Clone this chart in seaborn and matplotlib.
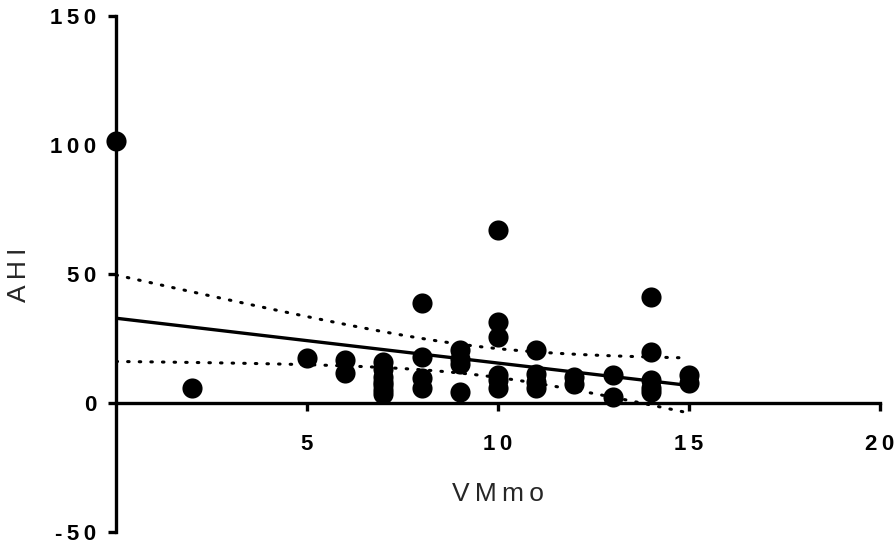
import numpy as np
import pandas as pd
import matplotlib
matplotlib.use("Agg")
import matplotlib.pyplot as plt
import seaborn as sns

# ---- data (overlapping points estimated) ----
vmmo = [0, 2, 5, 6, 6,
        7, 7, 7, 7, 7, 7, 7,
        8, 8, 8, 8,
        9, 9, 9, 9,
        10, 10, 10, 10, 10, 10,
        11, 11, 11, 11,
        12, 12,
        13, 13,
        14, 14, 14, 14, 14,
        15, 15]
ahi = [101.5, 6, 17.3, 16.7, 11.6,
       16, 13, 10, 8, 7, 5, 3.5,
       38.6, 17.7, 9.6, 5.7,
       20.5, 17, 15, 4.4,
       67, 31.5, 25.7, 11, 9, 6,
       20.5, 11.2, 8, 5.7,
       10.2, 7.5,
       10.9, 2.2,
       41.2, 19.9, 8.9, 6, 4.4,
       10.9, 7.6]

x_ticks = [5, 10, 15, 20]
y_ticks = [-50, 0, 50, 100, 150]
x_label = "VMmo"
y_label = "AHI"

df = pd.DataFrame({"VMmo": vmmo, "AHI": ahi})

# ---- linear fit and 95% confidence band of the mean ----
x = np.asarray(vmmo, float)
y = np.asarray(ahi, float)
n = len(x)
slope, intercept = np.polyfit(x, y, 1)
resid = y - (intercept + slope * x)
s = np.sqrt(np.sum(resid ** 2) / (n - 2))
t_crit = 2.02
xs = np.linspace(x.min(), x.max(), 100)
fit = intercept + slope * xs
se = s * np.sqrt(1 / n + (xs - x.mean()) ** 2 / np.sum((x - x.mean()) ** 2))
band = pd.DataFrame({"x": xs, "fit": fit, "lo": fit - t_crit * se, "hi": fit + t_crit * se})

sns.set_theme(style="white")
plt.rcParams["font.family"] = ["Liberation Sans", "DejaVu Sans"]

TS = "\u2009"  # thin space, for the wide letter spacing of the original


def spaced(s):
    return TS.join(list(s))


fig = plt.figure(figsize=(8.96, 5.46), dpi=100)
ax = fig.add_axes([116 / 896, 14 / 546, 764 / 896, 516 / 546])

dots = (0, (0.5, 3.3))
sns.lineplot(data=band, x="x", y="fit", ax=ax, color="black", lw=2.4, zorder=3)
sns.lineplot(data=band, x="x", y="hi", ax=ax, color="black", lw=2.2,
             linestyle=dots, dash_capstyle="round", zorder=3)
sns.lineplot(data=band, x="x", y="lo", ax=ax, color="black", lw=2.2,
             linestyle=dots, dash_capstyle="round", zorder=3)
sns.scatterplot(data=df, x="VMmo", y="AHI", ax=ax, color="black", s=210,
                edgecolor="black", linewidth=0, zorder=4, clip_on=False)

ax.set_xlim(0, 20)
ax.set_ylim(-50, 150)
for sp in ["top", "right"]:
    ax.spines[sp].set_visible(False)
ax.spines["bottom"].set_position(("data", 0))
ax.spines["left"].set_linewidth(2.4)
ax.spines["bottom"].set_linewidth(2.4)
ax.spines["left"].set_color("black")
ax.spines["bottom"].set_color("black")

ax.set_xticks(x_ticks)
ax.set_yticks(y_ticks)
ax.set_xticklabels([spaced(str(t)) for t in x_ticks], fontsize=16, fontweight="bold")
ax.set_yticklabels([spaced(str(t)) for t in y_ticks], fontsize=16, fontweight="bold")
ax.tick_params(axis="both", which="both", direction="out", length=6, width=2.4,
               color="black", labelcolor="black", left=True, bottom=True)
ax.tick_params(axis="x", pad=16)
ax.tick_params(axis="y", pad=8)

ax.set_xlabel("")
ax.set_ylabel("")
fig.text(498 / 896, 1 - 494 / 546, spaced(x_label), ha="center", va="center", fontsize=19)
fig.text(19 / 896, 1 - 275 / 546, spaced(y_label), ha="center", va="center",
         fontsize=19, rotation=90)

fig.savefig("out.png", dpi=100)
